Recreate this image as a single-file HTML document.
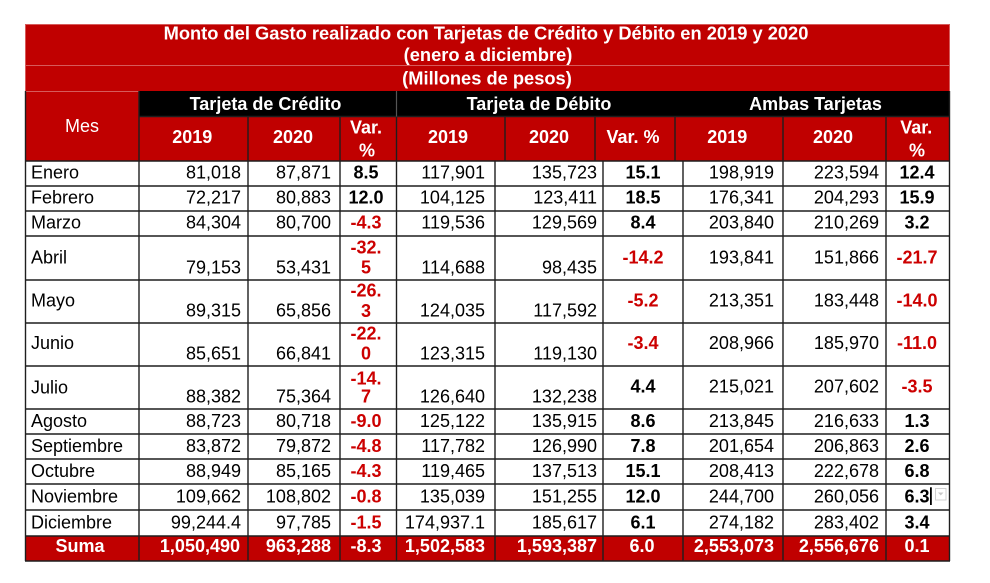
<!DOCTYPE html>
<html>
<head>
<meta charset="utf-8">
<style>
  html, body { margin: 0; padding: 0; background: #ffffff; }
  body { width: 990px; height: 583px; overflow: hidden; }
  svg { display: block; }
  text { font-family: "Liberation Sans", Arial, sans-serif; }
  .t { font-size: 18.3px; font-weight: bold; fill: #ffffff; }
  .h { font-size: 18px; font-weight: bold; fill: #ffffff; }
  .hr { font-size: 18px; fill: #ffffff; }
  .d { font-size: 18px; fill: #000000; }
  .b { font-size: 18px; font-weight: bold; fill: #000000; }
  .n { font-size: 18px; font-weight: bold; fill: #cc0000; }
  .s { font-size: 18px; font-weight: bold; fill: #ffffff; }
  .e { text-anchor: end; }
  .m { text-anchor: middle; }
</style>
</head>
<body>
<svg width="990" height="583" viewBox="0 0 990 583" xmlns="http://www.w3.org/2000/svg">
  <rect x="0" y="0" width="990" height="583" fill="#ffffff"/>

  <!-- Title block -->
  <rect x="25" y="24" width="925" height="67" fill="#c00000"/>
  <line x1="25" y1="24.5" x2="950" y2="24.5" stroke="#d65a5a" stroke-width="1"/>
  <line x1="25" y1="65.5" x2="950" y2="65.5" stroke="#d65a5a" stroke-width="1"/>
  <line x1="25.5" y1="24" x2="25.5" y2="91" stroke="#d65a5a" stroke-width="1"/>
  <line x1="949.5" y1="24" x2="949.5" y2="91" stroke="#d65a5a" stroke-width="1"/>

  <!-- Mes header cell -->
  <rect x="25" y="91" width="114" height="70" fill="#c00000"/>
  <line x1="25" y1="91.5" x2="139" y2="91.5" stroke="#d65a5a" stroke-width="1"/>
  <!-- Black group row -->
  <rect x="139" y="91" width="811" height="25.5" fill="#000000"/>
  <!-- Year row -->
  <rect x="139" y="116.5" width="811" height="44.5" fill="#c00000"/>
  <!-- Suma row -->
  <rect x="25" y="536" width="925" height="25" fill="#c00000"/>

  <!-- Grid lines -->
  <g stroke="#1e1e1e" stroke-width="1.4">
    <line x1="139" y1="116.5" x2="950" y2="116.5"/>
    <line x1="25" y1="161" x2="950" y2="161"/>
    <line x1="25" y1="186" x2="950" y2="186"/>
    <line x1="25" y1="211" x2="950" y2="211"/>
    <line x1="25" y1="236" x2="950" y2="236"/>
    <line x1="25" y1="280" x2="950" y2="280"/>
    <line x1="25" y1="323" x2="950" y2="323"/>
    <line x1="25" y1="366" x2="950" y2="366"/>
    <line x1="25" y1="409" x2="950" y2="409"/>
    <line x1="25" y1="434" x2="950" y2="434"/>
    <line x1="25" y1="459" x2="950" y2="459"/>
    <line x1="25" y1="484" x2="950" y2="484"/>
    <line x1="25" y1="510" x2="950" y2="510"/>
    <line x1="25" y1="536" x2="950" y2="536"/>
    <line x1="25" y1="561" x2="950" y2="561"/>

    <!-- outer verticals -->
    <line x1="25.5" y1="91" x2="25.5" y2="561"/>
    <line x1="949.5" y1="91" x2="949.5" y2="561"/>
    <line x1="139" y1="91" x2="139" y2="561"/>

    <!-- header year row verticals -->
    <line x1="248" y1="116.5" x2="248" y2="161"/>
    <line x1="340" y1="116.5" x2="340" y2="161"/>
    <line x1="396.5" y1="116.5" x2="396.5" y2="161"/>
    <line x1="505" y1="116.5" x2="505" y2="161"/>
    <line x1="595" y1="116.5" x2="595" y2="161"/>
    <line x1="675" y1="116.5" x2="675" y2="161"/>
    <line x1="783" y1="116.5" x2="783" y2="161"/>
    <line x1="886" y1="116.5" x2="886" y2="161"/>

    <!-- data verticals -->
    <line x1="248" y1="161" x2="248" y2="561"/>
    <line x1="340" y1="161" x2="340" y2="561"/>
    <line x1="396.5" y1="161" x2="396.5" y2="561"/>
    <line x1="495" y1="161" x2="495" y2="561"/>
    <line x1="603" y1="161" x2="603" y2="561"/>
    <line x1="683" y1="161" x2="683" y2="561"/>
    <line x1="783" y1="161" x2="783" y2="561"/>
    <line x1="886" y1="161" x2="886" y2="561"/>
  </g>
  <line x1="396.5" y1="91" x2="396.5" y2="116.5" stroke="#555555" stroke-width="1.2"/>

  <!-- Title text -->
  <text class="t m" x="486" y="39.5">Monto del Gasto realizado con Tarjetas de Crédito y Débito en 2019 y 2020</text>
  <text class="t m" x="488" y="61">(enero a diciembre)</text>
  <text class="t m" x="487" y="84.5">(Millones de pesos)</text>

  <!-- Group headers -->
  <text class="h m" x="265.5" y="110">Tarjeta de Crédito</text>
  <text class="h m" x="539" y="110">Tarjeta de Débito</text>
  <text class="h m" x="815.5" y="110">Ambas Tarjetas</text>

  <text class="hr m" x="82" y="132">Mes</text>

  <!-- Year row -->
  <text class="h m" x="192.3" y="143">2019</text>
  <text class="h m" x="293" y="143">2020</text>
  <text class="h m" x="366" y="133.5">Var.</text>
  <text class="h m" x="367" y="156.5">%</text>
  <text class="h m" x="448" y="143">2019</text>
  <text class="h m" x="549" y="143">2020</text>
  <text class="h m" x="633" y="143">Var. %</text>
  <text class="h m" x="727.3" y="143">2019</text>
  <text class="h m" x="833" y="143">2020</text>
  <text class="h m" x="916.3" y="133.5">Var.</text>
  <text class="h m" x="917" y="156.5">%</text>

  <!-- Enero -->
  <text class="d" x="31" y="178.5">Enero</text>
  <text class="d e" x="241" y="178.5">81,018</text>
  <text class="d e" x="331" y="178.5">87,871</text>
  <text class="b m" x="366" y="178.5">8.5</text>
  <text class="d e" x="485" y="178.5">117,901</text>
  <text class="d e" x="597" y="178.5">135,723</text>
  <text class="b m" x="643" y="178.5">15.1</text>
  <text class="d e" x="774" y="178.5">198,919</text>
  <text class="d e" x="879" y="178.5">223,594</text>
  <text class="b m" x="917" y="178.5">12.4</text>

  <!-- Febrero -->
  <text class="d" x="31" y="203.5">Febrero</text>
  <text class="d e" x="241" y="203.5">72,217</text>
  <text class="d e" x="331" y="203.5">80,883</text>
  <text class="b m" x="366" y="203.5">12.0</text>
  <text class="d e" x="485" y="203.5">104,125</text>
  <text class="d e" x="597" y="203.5">123,411</text>
  <text class="b m" x="643" y="203.5">18.5</text>
  <text class="d e" x="774" y="203.5">176,341</text>
  <text class="d e" x="879" y="203.5">204,293</text>
  <text class="b m" x="917" y="203.5">15.9</text>

  <!-- Marzo -->
  <text class="d" x="31" y="228.5">Marzo</text>
  <text class="d e" x="241" y="228.5">84,304</text>
  <text class="d e" x="331" y="228.5">80,700</text>
  <text class="n m" x="366" y="228.5">-4.3</text>
  <text class="d e" x="485" y="228.5">119,536</text>
  <text class="d e" x="597" y="228.5">129,569</text>
  <text class="b m" x="643" y="228.5">8.4</text>
  <text class="d e" x="774" y="228.5">203,840</text>
  <text class="d e" x="879" y="228.5">210,269</text>
  <text class="b m" x="917" y="228.5">3.2</text>

  <!-- Abril -->
  <text class="d" x="31" y="263.3">Abril</text>
  <text class="d e" x="241" y="273.3">79,153</text>
  <text class="d e" x="331" y="273.3">53,431</text>
  <text class="n m" x="366" y="253.5">-32.</text>
  <text class="n m" x="366" y="273.3">5</text>
  <text class="d e" x="485" y="273.3">114,688</text>
  <text class="d e" x="597" y="273.3">98,435</text>
  <text class="n m" x="643" y="263.3">-14.2</text>
  <text class="d e" x="774" y="263.3">193,841</text>
  <text class="d e" x="879" y="263.3">151,866</text>
  <text class="n m" x="917" y="263.3">-21.7</text>

  <!-- Mayo -->
  <text class="d" x="31" y="306.7">Mayo</text>
  <text class="d e" x="241" y="316.7">89,315</text>
  <text class="d e" x="331" y="316.7">65,856</text>
  <text class="n m" x="366" y="296.7">-26.</text>
  <text class="n m" x="366" y="316.9">3</text>
  <text class="d e" x="485" y="316.7">124,035</text>
  <text class="d e" x="597" y="316.7">117,592</text>
  <text class="n m" x="643" y="306.5">-5.2</text>
  <text class="d e" x="774" y="306.7">213,351</text>
  <text class="d e" x="879" y="306.7">183,448</text>
  <text class="n m" x="917" y="306.7">-14.0</text>

  <!-- Junio -->
  <text class="d" x="31" y="348.8">Junio</text>
  <text class="d e" x="241" y="359.3">85,651</text>
  <text class="d e" x="331" y="359.3">66,841</text>
  <text class="n m" x="366" y="339.5">-22.</text>
  <text class="n m" x="366" y="359.5">0</text>
  <text class="d e" x="485" y="359.3">123,315</text>
  <text class="d e" x="597" y="359.3">119,130</text>
  <text class="n m" x="643" y="349">-3.4</text>
  <text class="d e" x="774" y="349">208,966</text>
  <text class="d e" x="879" y="349">185,970</text>
  <text class="n m" x="917" y="349">-11.0</text>

  <!-- Julio -->
  <text class="d" x="31" y="393.5">Julio</text>
  <text class="d e" x="241" y="402.5">88,382</text>
  <text class="d e" x="331" y="402.5">75,364</text>
  <text class="n m" x="366" y="384.5">-14.</text>
  <text class="n m" x="366" y="402.5">7</text>
  <text class="d e" x="485" y="402.5">126,640</text>
  <text class="d e" x="597" y="402.5">132,238</text>
  <text class="b m" x="643" y="392.7">4.4</text>
  <text class="d e" x="774" y="392.7">215,021</text>
  <text class="d e" x="879" y="392.7">207,602</text>
  <text class="n m" x="917" y="392.7">-3.5</text>

  <!-- Agosto -->
  <text class="d" x="31" y="427">Agosto</text>
  <text class="d e" x="241" y="427">88,723</text>
  <text class="d e" x="331" y="427">80,718</text>
  <text class="n m" x="366" y="427">-9.0</text>
  <text class="d e" x="485" y="427">125,122</text>
  <text class="d e" x="597" y="427">135,915</text>
  <text class="b m" x="643" y="427">8.6</text>
  <text class="d e" x="774" y="427">213,845</text>
  <text class="d e" x="879" y="427">216,633</text>
  <text class="b m" x="917" y="427">1.3</text>

  <!-- Septiembre -->
  <text class="d" x="31" y="452">Septiembre</text>
  <text class="d e" x="241" y="452">83,872</text>
  <text class="d e" x="331" y="452">79,872</text>
  <text class="n m" x="366" y="452">-4.8</text>
  <text class="d e" x="485" y="452">117,782</text>
  <text class="d e" x="597" y="452">126,990</text>
  <text class="b m" x="643" y="452">7.8</text>
  <text class="d e" x="774" y="452">201,654</text>
  <text class="d e" x="879" y="452">206,863</text>
  <text class="b m" x="917" y="452">2.6</text>

  <!-- Octubre -->
  <text class="d" x="31" y="477">Octubre</text>
  <text class="d e" x="241" y="477">88,949</text>
  <text class="d e" x="331" y="477">85,165</text>
  <text class="n m" x="366" y="477">-4.3</text>
  <text class="d e" x="485" y="477">119,465</text>
  <text class="d e" x="597" y="477">137,513</text>
  <text class="b m" x="643" y="477">15.1</text>
  <text class="d e" x="774" y="477">208,413</text>
  <text class="d e" x="879" y="477">222,678</text>
  <text class="b m" x="917" y="477">6.8</text>

  <!-- Noviembre -->
  <text class="d" x="31" y="502.7">Noviembre</text>
  <text class="d e" x="241" y="502.7">109,662</text>
  <text class="d e" x="331" y="502.7">108,802</text>
  <text class="n m" x="366" y="502.7">-0.8</text>
  <text class="d e" x="485" y="502.7">135,039</text>
  <text class="d e" x="597" y="502.7">151,255</text>
  <text class="b m" x="643" y="502.7">12.0</text>
  <text class="d e" x="774" y="502.7">244,700</text>
  <text class="d e" x="879" y="502.7">260,056</text>
  <text class="b m" x="917" y="502.7">6.3</text>
  <!-- cursor + dropdown artifact -->
  <rect x="930" y="487.3" width="1.8" height="17.7" fill="#000000"/>
  <rect x="935.5" y="488.5" width="10.5" height="11.5" fill="#ffffff" stroke="#d0d0d0" stroke-width="1"/>
  <polygon points="938,492.5 943.5,492.5 940.75,495.5" fill="#c8c8c8"/>

  <!-- Diciembre -->
  <text class="d" x="31" y="528.4">Diciembre</text>
  <text class="d e" x="241" y="528.4">99,244.4</text>
  <text class="d e" x="331" y="528.4">97,785</text>
  <text class="n m" x="366" y="528.4">-1.5</text>
  <text class="d e" x="485" y="528.4">174,937.1</text>
  <text class="d e" x="597" y="528.4">185,617</text>
  <text class="b m" x="643" y="528.4">6.1</text>
  <text class="d e" x="774" y="528.4">274,182</text>
  <text class="d e" x="879" y="528.4">283,402</text>
  <text class="b m" x="917" y="528.4">3.4</text>

  <!-- Suma -->
  <text class="s m" x="80" y="552">Suma</text>
  <text class="s e" x="240" y="552">1,050,490</text>
  <text class="s e" x="331" y="552">963,288</text>
  <text class="s m" x="366" y="552">-8.3</text>
  <text class="s e" x="485" y="552">1,502,583</text>
  <text class="s e" x="597" y="552">1,593,387</text>
  <text class="s m" x="642" y="552">6.0</text>
  <text class="s e" x="774" y="552">2,553,073</text>
  <text class="s e" x="879" y="552">2,556,676</text>
  <text class="s m" x="917" y="552">0.1</text>
</svg>
</body>
</html>
